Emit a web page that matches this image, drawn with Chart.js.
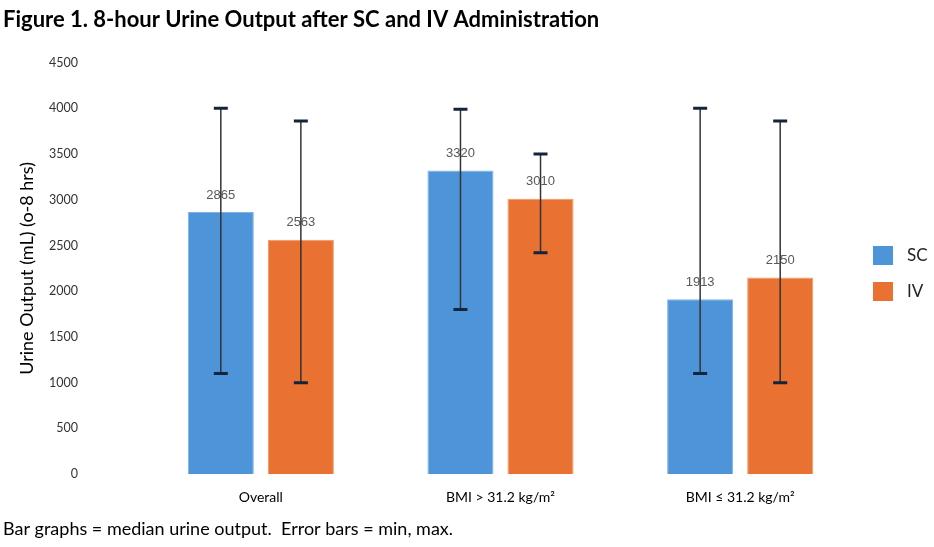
<!DOCTYPE html>
<html>
<head>
<meta charset="utf-8">
<script src="https://cdn.jsdelivr.net/npm/chart.js@4.4.1/dist/chart.umd.min.js"></script>
<style>
  html, body { margin: 0; padding: 0; background: #fff; }
  #wrap { width: 934px; height: 547px; position: relative; }
</style>
</head>
<body>
<div id="wrap"><canvas id="urineChart" width="934" height="547"></canvas></div>
<script>
// Chart data
const categories = ['Overall', 'BMI > 31.2 kg/m\u00B2', 'BMI \u2264 31.2 kg/m\u00B2'];
const scMedian = [2865, 3320, 1913];
const ivMedian = [2563, 3010, 2150];
const scMin = [1100, 1800, 1100];
const scMax = [4000, 3990, 4000];
const ivMin = [1000, 2420, 1000];
const ivMax = [3860, 3500, 3860];
const yTicks = [0, 500, 1000, 1500, 2000, 2500, 3000, 3500, 4000, 4500];

const calibri = 'Lato, "Open Sans", sans-serif';
const scColor = '#4e94d8';
const ivColor = '#e97132';

// Draws min/max whiskers, value labels, legend and figure texts
const extrasPlugin = {
    id: 'extras',
    afterDatasetsDraw(chart) {
        const ctx = chart.ctx;
        const y = chart.scales.y;
        const ranges = [[scMin, scMax], [ivMin, ivMax]];
        ctx.save();
        chart.data.datasets.forEach(function(ds, di) {
            const meta = chart.getDatasetMeta(di);
            meta.data.forEach(function(bar, i) {
                const x = bar.x;
                const yMin = y.getPixelForValue(ranges[di][0][i]);
                const yMax = y.getPixelForValue(ranges[di][1][i]);
                // value label
                ctx.fillStyle = '#595959';
                ctx.font = '13px "Liberation Sans", Arial, sans-serif';
                ctx.textAlign = 'center';
                ctx.textBaseline = 'middle';
                ctx.fillText(ds.data[i], x, bar.y - 17);
                // whisker
                ctx.strokeStyle = '#333';
                ctx.lineWidth = 1.5;
                ctx.beginPath();
                ctx.moveTo(x, yMax);
                ctx.lineTo(x, yMin);
                ctx.stroke();
                ctx.strokeStyle = '#14243a';
                ctx.lineWidth = 3;
                ctx.beginPath();
                ctx.moveTo(x - 7, yMax);
                ctx.lineTo(x + 7, yMax);
                ctx.moveTo(x - 7, yMin);
                ctx.lineTo(x + 7, yMin);
                ctx.stroke();
            });
        });

        // legend
        const legendItems = [['SC', scColor, 246], ['IV', ivColor, 282]];
        legendItems.forEach(function(item) {
            ctx.fillStyle = item[1];
            ctx.fillRect(873, item[2], 20, 19);
            ctx.fillStyle = '#222';
            ctx.font = '17px ' + calibri;
            ctx.textAlign = 'left';
            ctx.textBaseline = 'middle';
            ctx.fillText(item[0], 907, item[2] + 10);
        });

        // title and footnote
        ctx.fillStyle = '#000';
        ctx.textAlign = 'left';
        ctx.textBaseline = 'middle';
        ctx.font = 'bold 22px ' + calibri;
        ctx.fillText('Figure 1. 8-hour Urine Output after SC and IV Administration', 3, 20);
        ctx.font = '18px ' + calibri;
        ctx.fillText('Bar graphs = median urine output.  Error bars = min, max.', 3, 529);
        ctx.restore();
    }
};

const ctx = document.getElementById('urineChart').getContext('2d');
const urineChart = new Chart(ctx, {
    type: 'bar',
    data: {
        labels: categories,
        datasets: [{
            label: 'SC',
            data: scMedian,
            backgroundColor: scColor,
            borderColor: '#7fb2e6',
            borderWidth: 1,
            categoryPercentage: 0.668,
            barPercentage: 0.825
        }, {
            label: 'IV',
            data: ivMedian,
            backgroundColor: ivColor,
            borderColor: '#f1985f',
            borderWidth: 1,
            categoryPercentage: 0.668,
            barPercentage: 0.825
        }]
    },
    options: {
        responsive: false,
        animation: false,
        devicePixelRatio: 1,
        layout: {
            padding: { left: 0, right: 74, top: 62, bottom: 34 }
        },
        plugins: {
            legend: { display: false },
            tooltip: { enabled: false },
            title: { display: false }
        },
        scales: {
            x: {
                grid: { display: false },
                border: { display: false },
                ticks: {
                    color: '#000',
                    padding: 7,
                    autoSkip: false,
                    maxRotation: 0,
                    font: { family: calibri, size: 14 }
                }
            },
            y: {
                min: 0,
                max: 4500,
                afterBuildTicks: function(scale) {
                    scale.ticks = yTicks.map(function(v) { return { value: v }; });
                },
                grid: { display: false },
                border: { display: false },
                ticks: {
                    color: '#333',
                    padding: 55,
                    font: { family: calibri, size: 12.5 },
                    callback: function(value) { return String(value); }
                },
                title: {
                    display: true,
                    text: 'Urine Output (mL) (o-8 hrs)',
                    color: '#000',
                    font: { family: calibri, size: 18 },
                    padding: { top: 16, bottom: 0 }
                },
                afterFit: function(scale) { scale.width = 141; }
            }
        }
    },
    plugins: [extrasPlugin]
});
</script>
</body>
</html>
